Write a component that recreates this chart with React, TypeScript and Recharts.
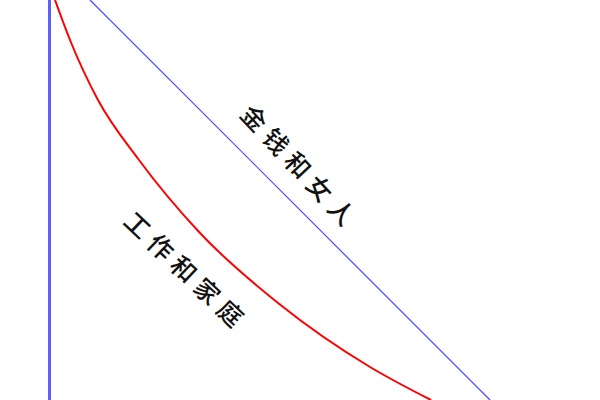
import React from 'react';
import { LineChart, Line, XAxis, YAxis, ReferenceLine, ReferenceDot } from 'recharts';

// Red curve "工作和家庭" (x, height above bottom)
const workX = [55, 70, 98, 139, 200, 278, 370, 431];
const workY = [400, 360, 300, 240, 167, 97, 33, 0];

// Straight blue line "金钱和女人"
const moneyX = [90, 490];
const moneyY = [400, 0];

// Vertical axis line
const axisX = 49.5;

// Labels
const labelTexts = ['金钱和女人', '工作和家庭'];
const labelX = [299, 185];
const labelY = [236, 132];
const labelAngle = [47, 43.5];

const workData = workX.map((x, i) => ({ x, y: workY[i] }));
const moneyData = moneyX.map((x, i) => ({ x, y: moneyY[i] }));

const RotLabel = (props: any) => {
  const { viewBox, text, rot } = props;
  const cx = viewBox.x + (viewBox.width || 0) / 2;
  const cy = viewBox.y + (viewBox.height || 0) / 2;
  return (
    <text
      x={cx}
      y={cy}
      dx={3.5}
      transform={`rotate(${rot} ${cx} ${cy})`}
      textAnchor="middle"
      dominantBaseline="central"
      fontFamily='"Noto Sans CJK SC", sans-serif'
      fontSize={25}
      fontWeight={500}
      fill="#111"
      style={{ letterSpacing: '7px' }}
    >
      {text}
    </text>
  );
};

export default function App() {
  return (
    <div style={{ position: 'absolute', left: 0, top: 0, width: 600, height: 400, background: '#fff' }}>
      <LineChart width={600} height={400} margin={{ top: 0, right: 0, bottom: 0, left: 0 }}>
        <XAxis type="number" dataKey="x" domain={[0, 600]} allowDataOverflow hide />
        <YAxis type="number" domain={[0, 400]} allowDataOverflow hide />
        <ReferenceLine x={axisX} stroke="#5f5fff" strokeWidth={3} ifOverflow="extendDomain" />
        <Line
          data={moneyData}
          dataKey="y"
          type="linear"
          stroke="#4848ff"
          strokeWidth={1.2}
          dot={false}
          activeDot={false}
          isAnimationActive={false}
        />
        <Line
          data={workData}
          dataKey="y"
          type="monotone"
          stroke="#ff0000"
          strokeWidth={2}
          dot={false}
          activeDot={false}
          isAnimationActive={false}
        />
        {labelTexts.map((t, i) => (
          <ReferenceDot
            key={t}
            x={labelX[i]}
            y={labelY[i]}
            r={1}
            fill="none"
            stroke="none"
            label={<RotLabel text={t} rot={labelAngle[i]} />}
          />
        ))}
      </LineChart>
    </div>
  );
}
